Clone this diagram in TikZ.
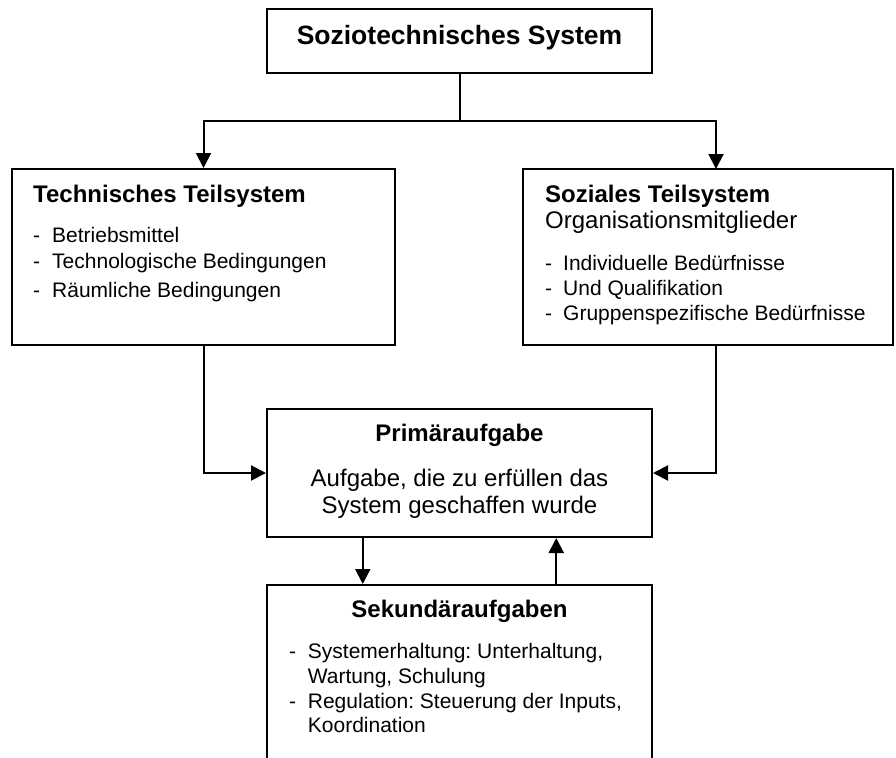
\documentclass[tikz,border=0pt]{standalone}
\usepackage{fontspec}
\setmainfont{Liberation Sans}
\usetikzlibrary{arrows.meta,calc}
\frenchspacing
\begin{document}
\begin{tikzpicture}[x=1pt,y=-1pt,
  box/.style={draw, line width=2pt, inner sep=0pt},
  conn/.style={line width=2pt},
  arr/.style={conn, -{Triangle[length=15pt,width=15pt]}},
  ttl/.style={font=\fontsize{24}{28}\selectfont\bfseries, inner sep=0pt},
  bigttl/.style={font=\fontsize{26.5}{30}\selectfont\bfseries, inner sep=0pt},
  txt/.style={font=\fontsize{21}{25}\selectfont, inner sep=0pt},
  mtxt/.style={font=\fontsize{24}{28}\selectfont, inner sep=0pt},
]
\useasboundingbox (0,0) rectangle (896,757);
\clip (0,0) rectangle (896,757);
\fill[white] (0,0) rectangle (896,757);

% boxes
\node[box, minimum width=385pt, minimum height=64pt] (top) at (459.5,41) {};
\node[box, minimum width=383pt, minimum height=176pt] (tech) at (203.5,257) {};
\node[box, minimum width=370pt, minimum height=176pt] (soz) at (708,257) {};
\node[box, minimum width=385pt, minimum height=128pt] (prim) at (459.5,473) {};
\node[box, minimum width=385pt, minimum height=215pt] (sec) at (459.5,692.5) {};

% texts: top
\node[bigttl, anchor=base] (ttop) at (459.5,45) {Soziotechnisches System};

% technical subsystem
\node[ttl, anchor=base west] (ttech) at (33,202.3) {Technisches Teilsystem};
\node[txt, anchor=base west] (dt1) at (33,242.5) {-};
\node[txt, anchor=base west] (it1) at (52,242.5) {Betriebsmittel};
\node[txt, anchor=base west] (dt2) at (33,268.3) {-};
\node[txt, anchor=base west] (it2) at (52,268.3) {Technologische Bedingungen};
\node[txt, anchor=base west] (dt3) at (33,297.3) {-};
\node[txt, anchor=base west] (it3) at (52,297.3) {Räumliche Bedingungen};

% social subsystem
\node[ttl, anchor=base west] (tsoz) at (545,202.3) {Soziales Teilsystem};
\node[mtxt, anchor=base west] (osoz) at (545,228) {Organisationsmitglieder};
\node[txt, anchor=base west] (ds1) at (545,270) {-};
\node[txt, anchor=base west] (is1) at (563,270) {Individuelle Bedürfnisse};
\node[txt, anchor=base west] (ds2) at (545,295) {-};
\node[txt, anchor=base west] (is2) at (563,295) {Und Qualifikation};
\node[txt, anchor=base west] (ds3) at (545,320) {-};
\node[txt, anchor=base west] (is3) at (563,320) {Gruppenspezifische Bedürfnisse};

% primary task
\node[ttl, anchor=base] (tprim) at (459.5,441.7) {Primäraufgabe};
\node[mtxt, anchor=base] (p1) at (459.5,486) {Aufgabe, die zu erfüllen das};
\node[mtxt, anchor=base] (p2) at (459.5,513.3) {System geschaffen wurde};

% secondary tasks
\node[ttl, anchor=base] (tsec) at (459.5,617.3) {Sekundäraufgaben};
\node[txt, anchor=base west] (dq1) at (289,658.3) {-};
\node[txt, anchor=base west] (q1) at (307.7,658.3) {Systemerhaltung: Unterhaltung,};
\node[txt, anchor=base west] (q1b) at (307.7,683.3) {Wartung, Schulung};
\node[txt, anchor=base west] (dq2) at (289,708.3) {-};
\node[txt, anchor=base west] (q2) at (307.7,708.3) {Regulation: Steuerung der Inputs,};
\node[txt, anchor=base west] (q2b) at (307.7,732.3) {Koordination};

% connectors
\coordinate (split) at (459.5,121);
\coordinate (sozin) at (716,169);
\coordinate (sozout) at (716,345);
\draw[conn] (top.south) -- (split);
\draw[arr] (split) -| (tech.north);
\draw[arr] (split) -| (sozin);
\draw[arr] (tech.south) |- (prim.west);
\draw[arr] (sozout) |- (prim.east);
\draw[arr] ($(prim.south west)!0.25!(prim.south east)$) -- ($(sec.north west)!0.25!(sec.north east)$);
\draw[arr] ($(sec.north west)!0.75!(sec.north east)$) -- ($(prim.south west)!0.75!(prim.south east)$);
\end{tikzpicture}
\end{document}
